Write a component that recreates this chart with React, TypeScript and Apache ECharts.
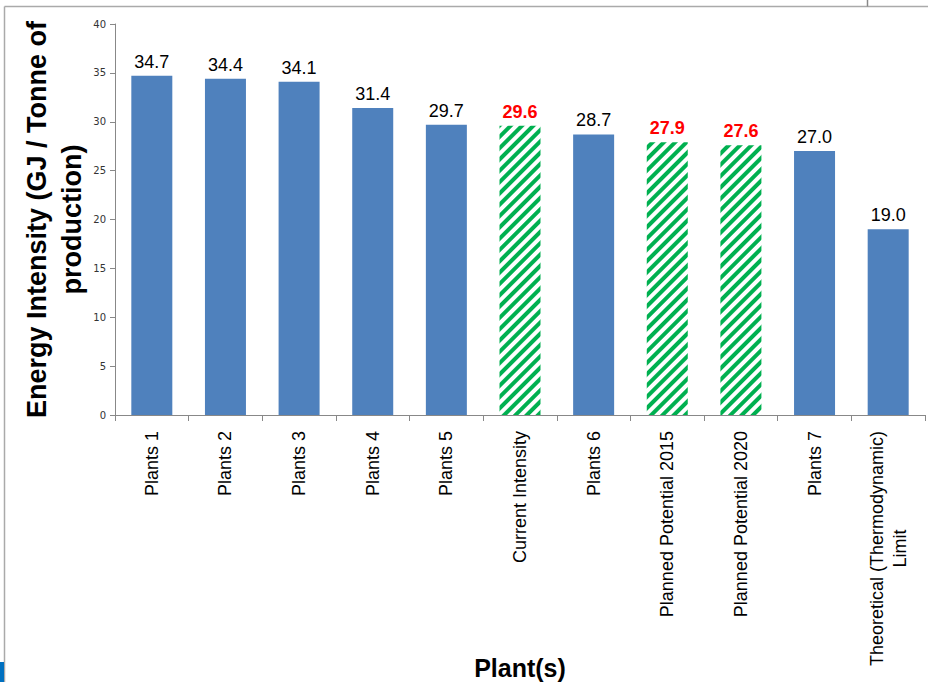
import React, { useEffect, useRef } from "react";
import * as echarts from "echarts";

const categories = [
  "Plants 1",
  "Plants 2",
  "Plants 3",
  "Plants 4",
  "Plants 5",
  "Current Intensity",
  "Plants 6",
  "Planned Potential 2015",
  "Planned Potential 2020",
  "Plants 7",
  "Theoretical (Thermodynamic)\nLimit",
];
const values = [34.7, 34.4, 34.1, 31.4, 29.7, 29.6, 28.7, 27.9, 27.6, 27.0, 19.0];
const highlighted = [false, false, false, false, false, true, false, true, true, false, false];
const yTicks = { min: 0, max: 40, interval: 5 };

const NARROW = "'Liberation Sans Narrow', 'Arial Narrow', 'Liberation Sans', Arial, sans-serif";
const SANS = "'Liberation Sans', Arial, sans-serif";

export default function App() {
  const ref = useRef<HTMLDivElement>(null);
  useEffect(() => {
    if (!ref.current) return;
    const chart = echarts.init(ref.current, null, { renderer: "svg" });
    const data = values.map((v, i) =>
      highlighted[i]
        ? {
            value: v,
            itemStyle: {
              color: "#ffffff",
              decal: {
                symbol: "rect",
                symbolSize: 1,
                color: "#00b050",
                backgroundColor: "#ffffff",
                dashArrayX: [1, 0],
                dashArrayY: [3.5, 3.5],
                rotation: -Math.PI / 4,
              },
            },
            label: { color: "#ff0000", fontWeight: "bold" as const },
          }
        : { value: v }
    );
    chart.setOption({
      animation: false,
      backgroundColor: "#ffffff",
      grid: {
        left: 115,
        right: 3,
        top: 24,
        bottom: 267,
        containLabel: false,
        outerBoundsMode: "none",
      },
      xAxis: {
        type: "category",
        data: categories,
        name: "Plant(s)",
        nameLocation: "middle",
        nameGap: 253,
        nameMoveOverlap: false,
        nameTextStyle: {
          fontFamily: SANS,
          fontSize: 25,
          fontWeight: "bold",
          color: "#000",
          verticalAlign: "middle",
        },
        axisLine: { lineStyle: { color: "#888888", width: 1 } },
        axisTick: { show: true, alignWithLabel: false, length: 6, lineStyle: { color: "#888888" } },
        axisLabel: {
          rotate: 90,
          interval: 0,
          margin: 16,
          fontFamily: NARROW,
          fontSize: 18,
          color: "#000",
          formatter: (v: string) =>
            v.includes("\n") ? v.split("\n").map((s) => `{c|${s}}`).join("\n") : v,
          rich: {
            c: { width: 235, align: "center", fontFamily: NARROW, fontSize: 18, color: "#000", lineHeight: 23 },
          },
        },
      },
      yAxis: {
        type: "value",
        min: yTicks.min,
        max: yTicks.max,
        interval: yTicks.interval,
        name: "Energy Intensity (GJ / Tonne of\nproduction)",
        nameLocation: "middle",
        nameRotate: 90,
        nameGap: 26,
        nameMoveOverlap: false,
        nameTextStyle: {
          fontFamily: SANS,
          fontSize: 27,
          fontWeight: "bold",
          color: "#000",
          lineHeight: 35,
          align: "center",
        },
        axisLine: { show: true, lineStyle: { color: "#888888", width: 1 } },
        axisTick: { show: true, length: 5, lineStyle: { color: "#888888" } },
        splitLine: { show: false },
        axisLabel: { fontFamily: "'DejaVu Sans', sans-serif", fontSize: 10, color: "#333", margin: 9 },
      },
      series: [
        {
          type: "bar",
          data,
          barWidth: 41,
          itemStyle: { color: "#4f81bd" },
          label: {
            show: true,
            position: "top",
            distance: 5,
            fontFamily: SANS,
            fontSize: 18,
            color: "#000",
            formatter: (p: any) => Number(p.value).toFixed(1),
          },
        },
      ],
      graphic: [
        { type: "line", shape: { x1: 4.5, y1: 6.5, x2: 928, y2: 6.5 }, style: { stroke: "#aaaaaa", lineWidth: 1.5 } },
        { type: "line", shape: { x1: 4.5, y1: 6.5, x2: 4.5, y2: 682 }, style: { stroke: "#aaaaaa", lineWidth: 1.5 } },
        { type: "line", shape: { x1: 867.5, y1: 0, x2: 867.5, y2: 6.5 }, style: { stroke: "#888888", lineWidth: 1.5 } },
        { type: "rect", shape: { x: 0, y: 662, width: 4, height: 20 }, style: { fill: "#0070c0" } },
      ],
    });
    return () => chart.dispose();
  }, []);
  return (
    <div
      ref={ref}
      style={{ position: "fixed", left: 0, top: 0, width: 928, height: 682, background: "#fff" }}
    />
  );
}
